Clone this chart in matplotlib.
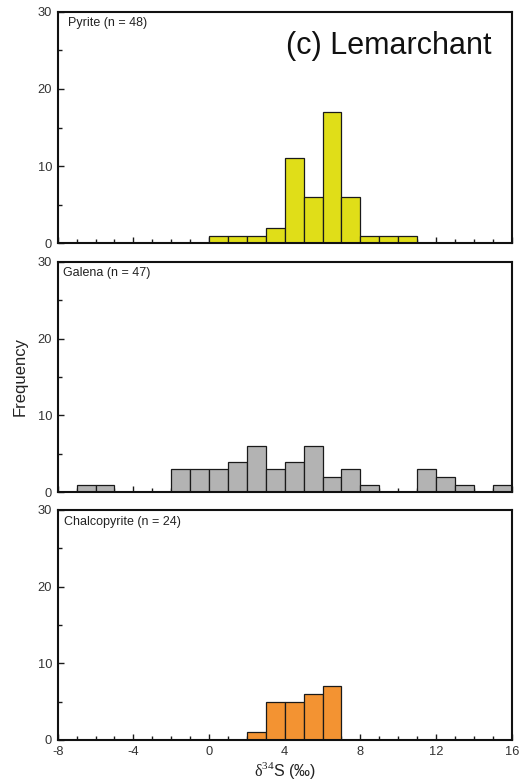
import matplotlib
matplotlib.use("Agg")
import matplotlib.pyplot as plt
from matplotlib.ticker import MultipleLocator, FixedLocator

plt.rcParams['font.family'] = ['Liberation Sans', 'DejaVu Sans']
plt.rcParams['axes.unicode_minus'] = False
plt.rcParams['mathtext.fontset'] = 'custom'
plt.rcParams['mathtext.rm'] = 'Liberation Serif'

# ---- data ----
pyrite_bin_left = [0, 1, 2, 3, 4, 5, 6, 7, 8, 9, 10]
pyrite_counts = [1, 1, 1, 2, 11, 6, 17, 6, 1, 1, 1]

galena_bin_left = [-7, -6, -2, -1, 0, 1, 2, 3, 4, 5, 6, 7, 8, 11, 12, 13, 15]
galena_counts = [1, 1, 3, 3, 3, 4, 6, 3, 4, 6, 2, 3, 1, 3, 2, 1, 1]

chalco_bin_left = [2, 3, 4, 5, 6]
chalco_counts = [1, 5, 5, 6, 7]

panel_labels = ["Pyrite (n = 48)", "Galena (n = 47)", "Chalcopyrite (n = 24)"]
colors = ["#E0DE18", "#B3B3B3", "#F39332"]
x_ticks = [-8, -4, 0, 4, 8, 12, 16]
y_ticks = [0, 10, 20, 30]

fig = plt.figure(figsize=(5.21, 7.83), dpi=100)
W, H = 521, 783
left, right = 57.7, 511.7
panels = [(11.7, 243.3), (261.7, 492.3), (510.0, 740.0)]
label_x = [0.022, 0.011, 0.013]

datasets = [(pyrite_bin_left, pyrite_counts),
            (galena_bin_left, galena_counts),
            (chalco_bin_left, chalco_counts)]

axes = []
for i, ((top, bot), (bl, cnt)) in enumerate(zip(panels, datasets)):
    ax = fig.add_axes([left / W, 1 - bot / H, (right - left) / W, (bot - top) / H])
    ax.bar(bl, cnt, width=1.0, align='edge', color=colors[i],
           edgecolor='#1a1a1a', linewidth=0.9, zorder=2)
    ax.set_xlim(-8, 16)
    ax.set_ylim(0, 30)
    ax.xaxis.set_major_locator(FixedLocator(x_ticks))
    ax.xaxis.set_minor_locator(MultipleLocator(1))
    ax.yaxis.set_major_locator(FixedLocator(y_ticks))
    ax.yaxis.set_minor_locator(FixedLocator([5, 15, 25]))
    ax.tick_params(axis='both', which='both', direction='in', top=False, right=False,
                   width=1.0, colors='#1a1a1a', labelcolor='#333333', labelsize=9.3)
    ax.tick_params(axis='both', which='major', length=4)
    ax.tick_params(axis='y', which='major', pad=4)
    ax.tick_params(axis='x', which='major', pad=4)
    ax.tick_params(axis='both', which='minor', length=3)
    for s in ax.spines.values():
        s.set_linewidth(1.5)
        s.set_color('#111111')
    if i < 2:
        ax.set_xticklabels([])
    ax.text(label_x[i], 0.975, panel_labels[i], transform=ax.transAxes, ha='left', va='top',
            fontsize=9, color='#222222')
    axes.append(ax)

axes[0].text(0.955, 0.915, "(c) Lemarchant", transform=axes[0].transAxes,
             ha='right', va='top', fontsize=22, color='#111111')

fig.text(20 / W, 1 - 377 / H, "Frequency", rotation=90, ha='center', va='center',
         fontsize=12, color='#222222')
axes[2].set_xlabel(r"$\mathrm{\delta}^{34}$S (‰)", fontsize=11.5, color='#222222', labelpad=2)

fig.savefig("out.png", dpi=100)
